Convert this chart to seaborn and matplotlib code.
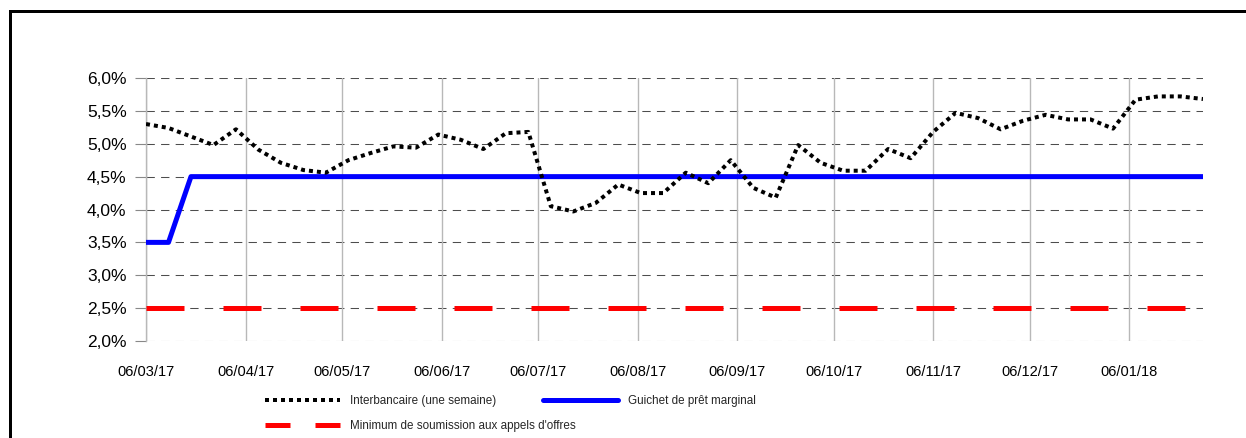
import numpy as np
import pandas as pd
import matplotlib
matplotlib.use("Agg")
import matplotlib.pyplot as plt
import matplotlib.dates as mdates
from matplotlib.lines import Line2D
from matplotlib.ticker import FuncFormatter
from matplotlib import font_manager
import seaborn as sns

# ---------------- data ----------------
dates = pd.date_range("2017-03-06", periods=48, freq="7D")

interbancaire = [5.30, 5.24, 5.11, 4.98, 5.22, 4.91, 4.71, 4.60, 4.56, 4.75,
                 4.86, 4.96, 4.94, 5.14, 5.06, 4.92, 5.16, 5.18, 4.05, 3.97,
                 4.10, 4.38, 4.25, 4.25, 4.56, 4.40, 4.75, 4.33, 4.18, 4.98,
                 4.71, 4.59, 4.59, 4.92, 4.78, 5.18, 5.47, 5.39, 5.22, 5.35,
                 5.44, 5.37, 5.37, 5.23, 5.67, 5.72, 5.72, 5.68]

guichet = [3.5, 3.5, 4.5, 4.5, 4.5, 4.5, 4.5, 4.5, 4.5, 4.5,
           4.5, 4.5, 4.5, 4.5, 4.5, 4.5, 4.5, 4.5, 4.5, 4.5,
           4.5, 4.5, 4.5, 4.5, 4.5, 4.5, 4.5, 4.5, 4.5, 4.5,
           4.5, 4.5, 4.5, 4.5, 4.5, 4.5, 4.5, 4.5, 4.5, 4.5,
           4.5, 4.5, 4.5, 4.5, 4.5, 4.5, 4.5, 4.5]

minimum = [2.5, 2.5, 2.5, 2.5, 2.5, 2.5, 2.5, 2.5, 2.5, 2.5,
           2.5, 2.5, 2.5, 2.5, 2.5, 2.5, 2.5, 2.5, 2.5, 2.5,
           2.5, 2.5, 2.5, 2.5, 2.5, 2.5, 2.5, 2.5, 2.5, 2.5,
           2.5, 2.5, 2.5, 2.5, 2.5, 2.5, 2.5, 2.5, 2.5, 2.5,
           2.5, 2.5, 2.5, 2.5, 2.5, 2.5, 2.5, 2.5]

series_labels = ["Interbancaire (une semaine)",
                 "Guichet de prêt marginal",
                 "Minimum de soumission aux appels d'offres"]

month_ticks = pd.to_datetime(["2017-03-06", "2017-04-06", "2017-05-06", "2017-06-06",
                              "2017-07-06", "2017-08-06", "2017-09-06", "2017-10-06",
                              "2017-11-06", "2017-12-06", "2018-01-06"])
y_ticks = [2.0, 2.5, 3.0, 3.5, 4.0, 4.5, 5.0, 5.5, 6.0]

df = pd.DataFrame({"date": dates, "inter": interbancaire,
                   "guichet": guichet, "minimum": minimum})

# ---------------- style ----------------
sns.set_theme(style="white")
names = {f.name for f in font_manager.fontManager.ttflist}
base_family = "Liberation Sans" if "Liberation Sans" in names else "DejaVu Sans"
legend_family = "Liberation Sans Narrow" if "Liberation Sans Narrow" in names else base_family
plt.rcParams["font.family"] = [base_family, "DejaVu Sans"]

W, H = 1246, 438
fig = plt.figure(figsize=(W / 100, H / 100), dpi=100)
fig.patch.set_facecolor("white")

ax_l, ax_r, ax_t, ax_b = 146, 1203, 78, 341
ax = fig.add_axes([ax_l / W, 1 - ax_b / H, (ax_r - ax_l) / W, (ax_b - ax_t) / H])
ax.set_facecolor("white")

px = 0.72  # points per pixel at 100 dpi

sns.lineplot(data=df, x="date", y="minimum", ax=ax, color="#ff0000",
             linewidth=5 * px, linestyle=(0, (7.6, 7.8)), legend=False, zorder=3)
sns.lineplot(data=df, x="date", y="guichet", ax=ax, color="#0000ff",
             linewidth=5 * px, legend=False, zorder=4)
sns.lineplot(data=df, x="date", y="inter", ax=ax, color="black",
             linewidth=4 * px, linestyle=(0, (1, 1)), legend=False, zorder=5)

ax.set_xlim(dates[0], dates[-1])
ax.set_ylim(2.0, 6.0)
ax.set_xlabel("")
ax.set_ylabel("")

ax.set_yticks(y_ticks)
ax.yaxis.set_major_formatter(FuncFormatter(lambda v, p: f"{v:.1f}%".replace(".", ",")))
ax.set_xticks(month_ticks)
ax.xaxis.set_major_formatter(mdates.DateFormatter("%d/%m/%y"))

ax.grid(False)
for yv in y_ticks:
    ax.axhline(yv, color="#4d4d4d", linewidth=0.75, linestyle=(0, (8, 6)), zorder=1)
for xv in month_ticks:
    ax.axvline(xv, color="#b8b8b8", linewidth=1.0, zorder=1)

for s in ["top", "right", "bottom"]:
    ax.spines[s].set_visible(False)
ax.spines["left"].set_color("#b8b8b8")
ax.spines["left"].set_linewidth(1.0)

ax.tick_params(axis="y", which="major", length=8, width=0.8, color="#888888",
               direction="out", pad=6, labelsize=12.5, labelcolor="black", left=True)
ax.tick_params(axis="x", which="major", length=0, pad=17, labelsize=10.5,
               labelcolor="black", bottom=True)

# ---------------- legend ----------------
h_inter = Line2D([], [], color="black", linewidth=4 * px, linestyle=(0, (1, 1)))
h_min = Line2D([], [], color="#ff0000", linewidth=5 * px, linestyle=(0, (5, 5)))
h_gui = Line2D([], [], color="#0000ff", linewidth=5 * px)

leg_fs = 8.4
common = dict(frameon=False, borderpad=0, borderaxespad=0,
              handlelength=6.4, handletextpad=0.85, labelspacing=1.1,
              prop={"family": legend_family, "size": leg_fs})
leg1 = fig.legend([h_inter, h_min], [series_labels[0], series_labels[2]],
                  loc="upper left", bbox_to_anchor=(265 / W, 1 - 395 / H), **common)
leg2 = fig.legend([h_gui], [series_labels[1]],
                  loc="upper left", bbox_to_anchor=(543 / W, 1 - 395 / H), **common)

# ---------------- outer frame ----------------
fig.add_artist(Line2D([10 / W, 10 / W], [0, 1 - 11 / H], transform=fig.transFigure,
                      color="black", linewidth=3 * px, solid_capstyle="projecting"))
fig.add_artist(Line2D([10 / W, 1], [1 - 11 / H, 1 - 11 / H], transform=fig.transFigure,
                      color="black", linewidth=3 * px, solid_capstyle="projecting"))

fig.savefig("out.png", dpi=100)
